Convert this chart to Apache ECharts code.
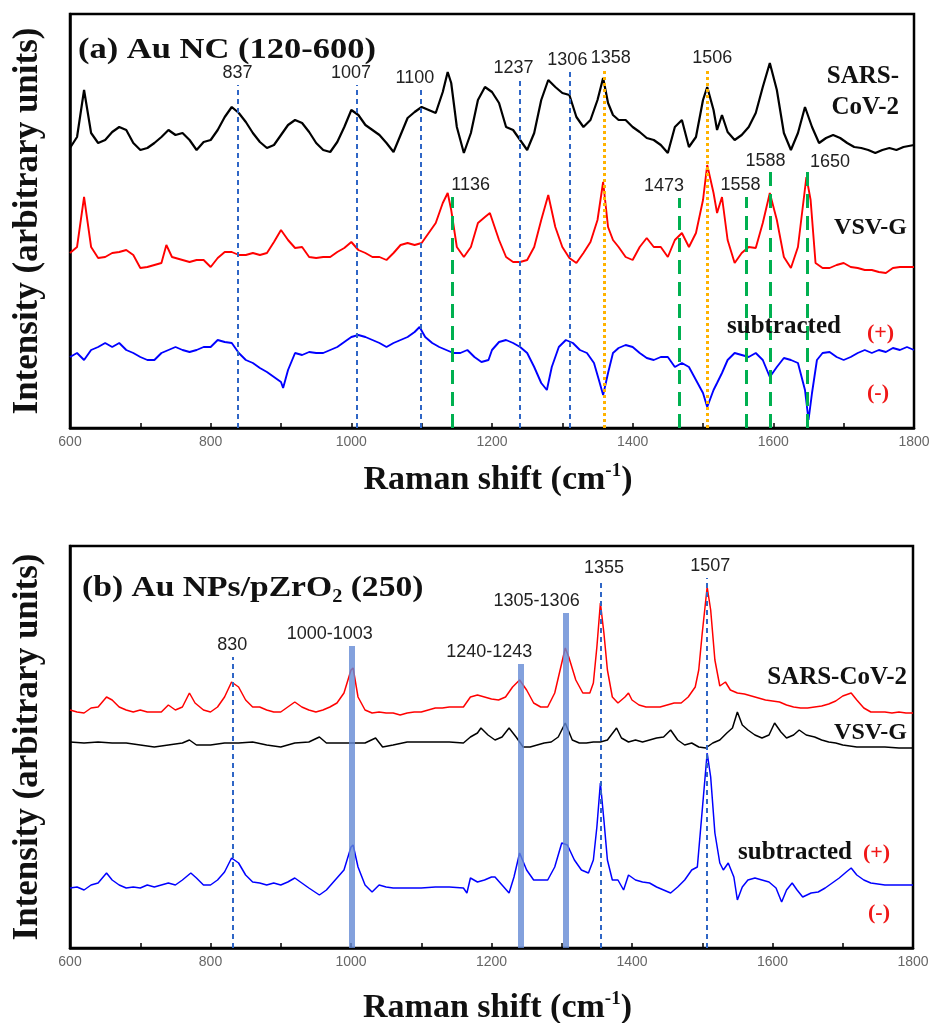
<!DOCTYPE html>
<html>
<head>
<meta charset="utf-8">
<title>Raman spectra</title>
<script src="https://cdn.jsdelivr.net/npm/echarts@6/dist/echarts.min.js"></script>
<style>
  html, body { margin: 0; padding: 0; background: #fff; }
  #main { width: 931px; height: 1023px; }
</style>
</head>
<body>
<div id="main"></div>
<script>
// (a) Au NC 光谱 [波数, 强度]
const aSars = [[600,280],[610,291],[620,338],[630,295],[640,285],[650,288],[660,296],[670,301],[680,298],[690,285],[700,278],[710,280],[720,285],[730,291],[740,298],[750,293],[760,295],[770,288],[780,278],[790,286],[800,288],[810,298],[820,311],[830,321],[840,315],[850,306],[860,295],[870,286],[880,280],[890,283],[900,293],[910,303],[920,308],[930,305],[940,296],[950,285],[960,278],[970,276],[980,286],[990,301],[1000,318],[1010,313],[1020,303],[1030,298],[1040,293],[1050,285],[1060,276],[1070,293],[1080,310],[1090,316],[1100,321],[1110,318],[1120,315],[1130,336],[1137,356],[1142,345],[1150,301],[1160,275],[1170,295],[1180,328],[1190,341],[1200,336],[1210,325],[1220,301],[1230,298],[1240,288],[1250,278],[1260,295],[1270,328],[1280,348],[1290,341],[1300,335],[1310,333],[1320,311],[1330,301],[1340,308],[1350,328],[1358,350],[1365,325],[1372,313],[1380,308],[1390,308],[1400,301],[1410,296],[1420,290],[1430,288],[1440,283],[1450,275],[1460,301],[1470,308],[1480,281],[1490,291],[1500,328],[1506,341],[1515,318],[1520,298],[1527,313],[1535,296],[1545,288],[1555,293],[1565,301],[1575,315],[1585,341],[1595,365],[1605,338],[1615,295],[1625,278],[1635,295],[1645,321],[1655,301],[1665,285],[1675,290],[1685,293],[1695,290],[1705,285],[1715,281],[1725,280],[1735,278],[1745,275],[1755,278],[1765,280],[1775,278],[1785,281],[1800,283]];
const aVsv = [[600,175],[610,181],[620,231],[630,181],[640,170],[650,171],[660,175],[670,176],[680,178],[690,173],[700,160],[710,161],[720,163],[730,165],[737,183],[745,171],[750,170],[760,168],[770,166],[780,168],[790,168],[800,161],[810,170],[820,176],[830,176],[840,173],[850,173],[860,175],[870,173],[880,175],[890,186],[900,198],[910,188],[920,180],[930,181],[940,171],[950,170],[960,171],[970,171],[980,176],[990,180],[1000,186],[1010,178],[1020,175],[1030,171],[1040,171],[1050,168],[1060,175],[1070,183],[1080,185],[1090,183],[1100,185],[1110,195],[1120,205],[1130,225],[1137,235],[1142,218],[1150,181],[1160,171],[1170,181],[1180,205],[1190,211],[1197,215],[1210,188],[1220,171],[1230,166],[1240,166],[1250,168],[1260,181],[1270,208],[1280,233],[1290,201],[1300,181],[1310,170],[1320,165],[1330,175],[1340,186],[1350,208],[1358,246],[1365,201],[1372,188],[1380,181],[1390,171],[1400,168],[1410,181],[1420,190],[1430,181],[1440,181],[1450,171],[1460,188],[1470,195],[1480,181],[1490,195],[1500,228],[1506,263],[1515,235],[1520,215],[1527,231],[1535,188],[1545,165],[1555,175],[1565,181],[1575,180],[1585,205],[1595,235],[1605,208],[1615,171],[1625,160],[1635,181],[1647,251],[1653,228],[1660,165],[1670,160],[1680,160],[1690,163],[1700,165],[1710,161],[1720,160],[1730,158],[1740,158],[1750,156],[1760,155],[1770,160],[1780,161],[1790,161],[1800,161]];
const aSub = [[600,71],[610,75],[620,68],[630,78],[640,81],[650,85],[660,81],[670,85],[680,78],[690,75],[700,71],[710,68],[720,68],[730,75],[740,78],[750,81],[760,78],[770,76],[780,78],[790,81],[800,81],[810,88],[820,86],[830,85],[840,75],[850,68],[860,65],[870,60],[880,56],[890,51],[900,46],[903,40],[910,58],[920,75],[930,73],[940,76],[950,75],[960,75],[970,78],[980,81],[990,86],[1000,91],[1010,93],[1020,91],[1030,88],[1040,85],[1050,81],[1060,85],[1070,88],[1080,91],[1090,96],[1097,101],[1105,91],[1115,85],[1125,81],[1135,78],[1145,75],[1155,75],[1165,78],[1175,71],[1185,66],[1195,68],[1200,78],[1210,86],[1220,88],[1230,85],[1240,81],[1250,75],[1260,61],[1270,45],[1278,38],[1285,61],[1295,81],[1305,88],[1315,85],[1325,78],[1335,75],[1345,65],[1352,48],[1358,33],[1365,55],[1372,75],[1380,80],[1390,83],[1400,81],[1410,75],[1420,70],[1430,68],[1440,71],[1450,71],[1460,61],[1470,65],[1480,61],[1490,48],[1500,35],[1506,21],[1515,38],[1520,45],[1527,55],[1535,68],[1545,75],[1555,73],[1565,71],[1575,75],[1585,68],[1595,51],[1605,61],[1615,70],[1625,68],[1635,65],[1645,38],[1650,8],[1655,35],[1662,68],[1670,75],[1680,76],[1690,71],[1700,68],[1710,71],[1720,75],[1730,78],[1740,75],[1750,78],[1760,76],[1770,80],[1780,78],[1790,81],[1800,78]];

// (b) Au NPs/pZrO2 光谱
const bSars = [[600,238],[610,236],[620,235],[630,240],[640,241],[652,251],[660,248],[670,241],[680,238],[690,236],[700,238],[710,236],[720,236],[730,236],[740,243],[750,238],[760,241],[770,255],[778,245],[790,238],[800,236],[810,241],[820,251],[830,266],[840,261],[850,248],[860,241],[870,241],[880,238],[890,236],[900,236],[910,241],[920,246],[930,241],[940,238],[950,236],[960,238],[970,241],[980,245],[990,255],[1000,278],[1003,280],[1010,251],[1020,238],[1030,235],[1040,236],[1050,235],[1060,235],[1070,233],[1080,235],[1090,236],[1100,236],[1110,238],[1120,240],[1130,240],[1140,241],[1150,241],[1160,241],[1170,251],[1180,253],[1190,251],[1200,249],[1210,248],[1220,251],[1230,261],[1240,268],[1250,258],[1260,245],[1270,241],[1280,241],[1290,255],[1300,285],[1305,300],[1310,291],[1320,268],[1330,255],[1340,255],[1345,265],[1350,301],[1355,345],[1360,315],[1365,278],[1372,251],[1380,245],[1390,251],[1395,255],[1400,248],[1410,243],[1420,241],[1430,241],[1440,241],[1450,243],[1460,245],[1470,245],[1480,251],[1490,261],[1495,278],[1500,315],[1507,361],[1512,338],[1518,288],[1525,262],[1533,266],[1540,258],[1550,255],[1560,254],[1570,252],[1580,250],[1590,248],[1600,247],[1610,246],[1620,243],[1630,241],[1640,240],[1650,240],[1660,241],[1670,242],[1680,244],[1690,247],[1700,252],[1712,255],[1720,248],[1730,240],[1740,236],[1750,236],[1760,236],[1770,235],[1780,236],[1790,235],[1800,235]];
const bVsv = [[600,206],[620,205],[640,206],[660,205],[680,205],[700,203],[720,201],[740,203],[760,205],[770,208],[780,203],[800,203],[820,205],[840,205],[860,206],[880,203],[900,201],[920,205],[940,206],[955,211],[965,205],[980,205],[1000,205],[1020,205],[1035,210],[1045,201],[1060,203],[1080,206],[1100,206],[1120,206],[1140,206],[1160,205],[1170,211],[1180,215],[1185,220],[1195,213],[1205,208],[1215,211],[1225,220],[1235,211],[1245,201],[1255,201],[1265,203],[1275,205],[1285,206],[1295,211],[1305,225],[1315,208],[1325,205],[1335,205],[1345,206],[1355,206],[1365,208],[1378,220],[1385,210],[1395,206],[1405,208],[1415,206],[1425,208],[1435,210],[1445,211],[1455,218],[1465,208],[1475,203],[1485,205],[1495,201],[1505,200],[1515,205],[1525,208],[1535,215],[1543,220],[1550,236],[1557,223],[1565,218],[1575,213],[1585,210],[1595,213],[1603,225],[1612,216],[1620,210],[1630,213],[1638,218],[1648,213],[1660,211],[1670,208],[1680,206],[1690,205],[1700,203],[1720,201],[1740,201],[1760,201],[1780,200],[1800,200]];
const bSub = [[600,60],[610,61],[620,58],[630,63],[640,65],[652,75],[660,68],[670,63],[680,60],[690,61],[700,60],[710,63],[720,61],[730,63],[740,65],[750,63],[760,68],[772,75],[780,70],[790,63],[800,63],[810,68],[820,76],[830,90],[840,85],[850,73],[860,66],[870,65],[880,63],[890,65],[900,63],[910,66],[920,70],[930,65],[940,60],[955,53],[965,58],[980,70],[990,78],[1000,101],[1003,103],[1010,81],[1020,63],[1030,56],[1040,63],[1050,61],[1060,60],[1080,60],[1100,60],[1120,61],[1140,61],[1160,60],[1165,55],[1170,70],[1180,66],[1190,68],[1200,71],[1205,71],[1215,63],[1225,55],[1232,71],[1240,95],[1250,78],[1260,68],[1270,68],[1280,68],[1290,81],[1300,105],[1308,103],[1318,88],[1328,78],[1338,75],[1345,88],[1350,121],[1355,165],[1360,128],[1365,88],[1372,68],[1380,68],[1388,58],[1395,73],[1405,68],[1415,66],[1425,65],[1435,61],[1445,58],[1455,55],[1465,61],[1475,68],[1485,78],[1493,81],[1500,138],[1507,195],[1512,171],[1518,115],[1525,85],[1530,78],[1537,85],[1545,71],[1550,48],[1557,61],[1565,68],[1575,70],[1585,68],[1595,66],[1605,60],[1613,46],[1620,58],[1628,65],[1635,58],[1643,51],[1655,55],[1665,56],[1675,60],[1685,65],[1695,70],[1705,76],[1712,80],[1720,73],[1730,68],[1740,65],[1760,63],[1780,63],[1800,63]];

// 标注竖线 [位置, 顶端强度, 文字]
const aBlueMarks = [[838, 343, '837'], [1008, 343, '1007'], [1099, 338, '1100'], [1239, 348, '1237'], [1310, 356, '1306']];
const aOrangeMarks = [[1359, 358, '1358'], [1506, 358, '1506']];
const aGreenMarks = [[1144, 231, '1136'], [1466, 230, '1473'], [1562, 231, '1558'], [1596, 259, '1588'], [1648, 262, '1650']];
const bDashMarks = [[831, 291, '830'], [1356, 368, '1355'], [1507, 370, '1507']];
const bBandMarks = [[1001, 302, '1000-1003'], [1241, 284, '1240-1243'], [1305.5, 335, '1305-1306']];

const serif = '"Liberation Serif", "DejaVu Serif", serif';
const sans = '"Liberation Sans", Arial, sans-serif';

// 标注文字的偏移
const labelShift = {
  '1007': [-6, 0], '1100': [-6, 0], '1237': [-6, 0], '1306': [-2, 0],
  '1358': [7, 0], '1506': [5, 0],
  '1136': [18, 0], '1473': [-15, 0], '1558': [-6, 0], '1588': [-5, 4], '1650': [23, 8],
  '1355': [3, 0], '1507': [3, 0],
  '1000-1003': [-22, 0], '1240-1243': [-31, 0], '1305-1306': [-29, 0]
};

function vLines(marks, style) {
  return marks.map(function (m) {
    return [
      {
        name: m[2], coord: [m[0], 0], lineStyle: style,
        label: { offset: labelShift[m[2]] || [0, 0], color: '#222', opacity: 1 }
      },
      { coord: [m[0], m[1]] }
    ];
  });
}

const blueDash = { color: '#2f66c6', width: 2, type: [5, 4], opacity: 1 };
const orangeDot = { color: '#ffb300', width: 3, type: [3, 3], opacity: 1 };
const greenDash = { color: '#00b050', width: 3, type: [14, 8], opacity: 1 };
const band = { color: 'rgba(100,138,212,0.8)', width: 6, type: 'solid', opacity: 1 };

function xAxisOf(idx, gap) {
  return {
    type: 'value', gridIndex: idx, min: 600, max: 1800, interval: 100,
    axisLine: { lineStyle: { color: '#000', width: 2.5 } },
    axisTick: { inside: true, length: 5, lineStyle: { color: '#000', width: 1.5 } },
    axisLabel: {
      color: '#666', fontSize: 14, fontFamily: sans, margin: 7,
      formatter: function (v) { return v % 200 === 0 ? String(v) : ''; }
    },
    splitLine: { show: false },
    name: '{a|Raman shift (cm}{b|-1}{a|)}',
    nameLocation: 'middle', nameGap: gap,
    nameTextStyle: {
      padding: [0, 0, 0, 12],
      rich: {
        a: { fontSize: 34, fontWeight: 'bold', fontFamily: serif, color: '#111', lineHeight: 36 },
        b: { fontSize: 19, fontWeight: 'bold', fontFamily: serif, color: '#111', verticalAlign: 'top', lineHeight: 36 }
      }
    }
  };
}

function yAxisOf(idx, max) {
  return {
    type: 'value', gridIndex: idx, min: 0, max: max,
    axisLine: { show: true, lineStyle: { color: '#000', width: 2.5 } },
    axisTick: { show: false }, axisLabel: { show: false }, splitLine: { show: false },
    name: 'Intensity (arbitrary units)', nameLocation: 'middle', nameGap: 25,
    nameTextStyle: { fontSize: 35, fontWeight: 'bold', fontFamily: serif, color: '#111' }
  };
}

function trace(data, color, width, idx) {
  return {
    type: 'line', data: data, xAxisIndex: idx, yAxisIndex: idx,
    showSymbol: false, symbol: 'none', smooth: false,
    lineStyle: { color: color, width: width }, silent: true
  };
}

function marks(idx, lines) {
  return {
    type: 'line', data: [], xAxisIndex: idx, yAxisIndex: idx, z: 5,
    markLine: {
      silent: true, symbol: ['none', 'none'], animation: false,
      label: { position: 'end', distance: 3, formatter: '{b}', color: '#222', fontSize: 18, fontFamily: sans },
      data: lines
    }
  };
}

function text(x, y, str, opt) {
  return {
    type: 'text', x: x, y: y, scaleX: opt.scaleX || 1, z: 10,
    style: Object.assign({
      text: str, fill: '#111', font: 'bold ' + (opt.size || 25) + 'px ' + serif,
      textAlign: opt.align || 'left', textVerticalAlign: 'middle'
    }, opt.style || {})
  };
}

const myChart = echarts.init(document.getElementById('main'));
myChart.setOption({
  animation: false,
  backgroundColor: '#fff',
  grid: [
    { left: 70, top: 14, width: 844, height: 414, show: true, borderColor: '#000', borderWidth: 2.5, outerBoundsMode: 'none' },
    { left: 70, top: 546, width: 843, height: 402, show: true, borderColor: '#000', borderWidth: 2.5, outerBoundsMode: 'none' }
  ],
  xAxis: [xAxisOf(0, 34), xAxisOf(1, 42)],
  yAxis: [yAxisOf(0, 414), yAxisOf(1, 402)],
  series: [
    trace(aSars, '#000', 2.2, 0),
    trace(aVsv, '#ff0000', 1.9, 0),
    trace(aSub, '#0000ff', 1.9, 0),
    marks(0, vLines(aBlueMarks, blueDash).concat(vLines(aOrangeMarks, orangeDot), vLines(aGreenMarks, greenDash))),
    trace(bSars, '#ff0000', 1.5, 1),
    trace(bVsv, '#000', 1.5, 1),
    trace(bSub, '#0000ff', 1.5, 1),
    marks(1, vLines(bBandMarks, band).concat(vLines(bDashMarks, blueDash)))
  ],
  graphic: [
    text(78, 50, '(a) Au NC (120-600)', { size: 30, scaleX: 1.15 }),
    text(899, 77, 'SARS-', { align: 'right' }),
    text(899, 108, 'CoV-2', { align: 'right' }),
    text(907, 228, 'VSV-G', { align: 'right', size: 24 }),
    text(727, 327, 'subtracted', {}),
    text(867, 333, '(+)', { size: 22, style: { fill: '#f01818' } }),
    text(867, 393, '(-)', { size: 22, style: { fill: '#f01818' } }),
    {
      type: 'text', x: 82, y: 588, scaleX: 1.12, z: 10,
      style: {
        text: '{t|(b) Au NPs/pZrO}{s|2}{t| (250)}', textVerticalAlign: 'middle',
        rich: {
          t: { fontSize: 30, fontWeight: 'bold', fontFamily: serif, fill: '#111', lineHeight: 36 },
          s: { fontSize: 18, fontWeight: 'bold', fontFamily: serif, fill: '#111', verticalAlign: 'bottom', lineHeight: 36 }
        }
      }
    },
    text(907, 678, 'SARS-CoV-2', { align: 'right' }),
    text(907, 733, 'VSV-G', { align: 'right', size: 24 }),
    text(738, 853, 'subtracted', {}),
    text(863, 853, '(+)', { size: 22, style: { fill: '#f01818' } }),
    text(868, 913, '(-)', { size: 22, style: { fill: '#f01818' } })
  ]
});
</script>
</body>
</html>
